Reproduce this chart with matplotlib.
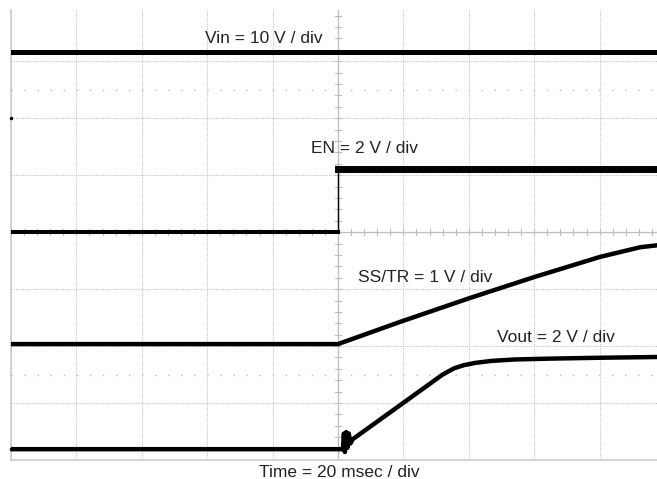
import numpy as np
import matplotlib.pyplot as plt

plt.rcParams['font.family'] = ['Liberation Sans', 'DejaVu Sans']

# time axis: 20 ms / div, 10 divisions
t_vin = [-100, 100]
vin = [11.6, 11.6]          # V, 10 V/div

t_en = [-100, 0, 0, 100]
en = [0.0, 0.0, 2.2, 2.2]   # V, 2 V/div

t_ss = [-100, 0, 19.0, 40.4, 60.2, 80.1, 92.4, 100]
ss = [0.0, 0.0, 0.39, 0.81, 1.18, 1.53, 1.70, 1.75]   # V, 1 V/div

t_vout = [-100, 1.5, 1.8, 2.1, 2.5, 2.9, 3.3, 3.8, 4.5, 19.9, 32.0, 35.5, 38.5, 42.0, 47.0, 54.0, 65.0, 80.1, 100]
vout = [0.0, 0.0, 0.55, -0.1, 0.6, 0.05, 0.55, 0.2, 0.35, 1.62, 2.62, 2.84, 2.95, 3.03, 3.10, 3.15, 3.18, 3.21, 3.24]  # V, 2 V/div

# channel scale (V/div) and ground offset (div)
scale = {'vin': 10, 'en': 2, 'ss': 1, 'vout': 2}
ground = {'vin': 2.0, 'en': 0.0, 'ss': -1.965, 'vout': -3.81}


def div(name, vals):
    return [ground[name] + v / scale[name] for v in vals]


fig = plt.figure(figsize=(6.57, 4.79), dpi=100)
ax = fig.add_axes([11 / 657, 19 / 479, 654 / 657, 450 / 479])
ax.set_xlim(-100, 100)
ax.set_ylim(-4, 3.9)

grid_c = '#c4c4c4'
ax.set_xticks(np.arange(-100, 101, 20))
ax.set_yticks(np.arange(-4, 4, 1))
ax.tick_params(length=0, labelbottom=False, labelleft=False)
ax.grid(True, color=grid_c, lw=0.8, ls=(0, (1, 1)))
for s in ['top', 'right']:
    ax.spines[s].set_visible(False)
for s in ['left', 'bottom']:
    ax.spines[s].set_color('#cccccc')
    ax.spines[s].set_linewidth(1.2)

# center cross with minor ticks
ax.axhline(0, color='#bbbbbb', lw=0.9, zorder=1)
ax.axvline(0, color='#bbbbbb', lw=0.9, zorder=1)
for xv in np.arange(-100, 101, 4):
    ax.plot([xv, xv], [-0.05, 0.05], color='#bbbbbb', lw=0.8, zorder=1)
for yv in np.arange(-4, 3.9, 0.2):
    ax.plot([-0.9, 0.9], [yv, yv], color='#bbbbbb', lw=0.8, zorder=1)
for yv in [2.5, -2.5]:
    ax.axhline(yv, color='#bbbbbb', lw=1.0, ls=(0, (1, 8.4)), zorder=1)

# traces
ax.plot(t_vin, div('vin', vin), color='black', lw=3.6, zorder=3)
en_d = div('en', en)
ax.plot(t_en[:2], en_d[:2], color='black', lw=2.9, zorder=3)
ax.plot(t_en[1:3], en_d[1:3], color='black', lw=1.0, zorder=3)
ax.plot(t_en[2:], en_d[2:], color='black', lw=5.0, zorder=3)
ax.plot(t_ss, div('ss', ss), color='black', lw=3.2, zorder=3, solid_joinstyle='round')
ax.plot(t_vout, div('vout', vout), color='black', lw=3.2, zorder=3, solid_joinstyle='round')

# ground markers
for name in ['vin', 'vout']:
    ax.plot([-100], [ground[name]], marker='o', ms=1.5, color='black', clip_on=False, zorder=4)

fs = 12.5
tc = '#222222'
fig.text(205 / 657, 1 - 43 / 479, 'Vin = 10 V / div', fontsize=fs, color=tc, va='baseline')
fig.text(311 / 657, 1 - 153 / 479, 'EN = 2 V / div', fontsize=fs, color=tc, va='baseline')
fig.text(358 / 657, 1 - 282 / 479, 'SS/TR = 1 V / div', fontsize=fs, color=tc, va='baseline')
fig.text(497 / 657, 1 - 342 / 479, 'Vout = 2 V / div', fontsize=fs, color=tc, va='baseline')
fig.text(259 / 657, 1 - 477 / 479, 'Time = 20 msec / div', fontsize=fs, color=tc, va='baseline')

fig.savefig('out.png', dpi=100)
